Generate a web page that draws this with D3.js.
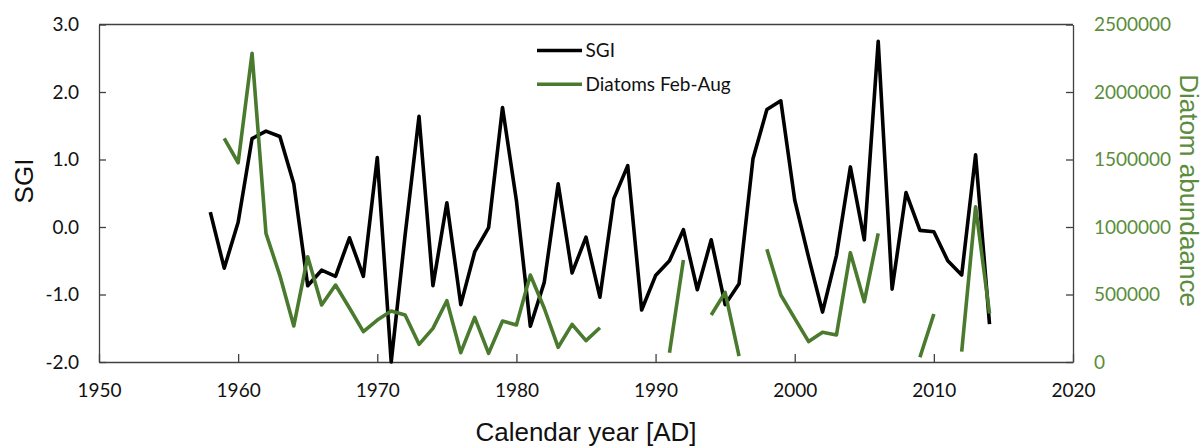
<!DOCTYPE html>
<html>
<head>
<meta charset="utf-8">
<script src="https://cdn.jsdelivr.net/npm/d3@7/dist/d3.min.js"></script>
<style>
  html, body { margin: 0; padding: 0; background: #fff; }
  svg { display: block; }
</style>
</head>
<body>
<svg id="chart" width="1204" height="447"></svg>
<script>
// Annual series, 1958–2014
const years = d3.range(1958, 2015);

// Standardised growth index
const sgi = [
  0.22, -0.61, 0.07, 1.31, 1.42, 1.34, 0.64, -0.87, -0.64, -0.73,
  -0.16, -0.73, 1.03, -2.0, -0.12, 1.64, -0.87, 0.36, -1.15, -0.37,
  -0.01, 1.77, 0.39, -1.47, -0.82, 0.64, -0.68, -0.15, -1.04, 0.42,
  0.91, -1.23, -0.72, -0.50, -0.04, -0.93, -0.19, -1.15, -0.84, 1.01,
  1.74, 1.87, 0.40, -0.45, -1.26, -0.42, 0.89, -0.19, 2.75, -0.92,
  0.51, -0.05, -0.07, -0.50, -0.71, 1.07, -1.44
];

// Diatom abundance, February–August (null = no sample)
const diatoms = [
  null, 1657000, 1476000, 2287000, 953000, 640000, 267000, 780000, 422000, 570000,
  400000, 225000, 311000, 378000, 348000, 131000, 249000, 454000, 69000, 331000,
  64000, 304000, 274000, 644000, 398000, 109000, 279000, 158000, 254000, null,
  null, null, null, 69000, 756000, null, 348000, 516000, 44000, null,
  835000, 496000, 323000, 151000, 220000, 200000, 810000, 447000, 953000, null,
  null, 35000, 356000, null, 77000, 1150000, 360000
];

const xTicks = [1950, 1960, 1970, 1980, 1990, 2000, 2010, 2020];
const sgiTicks = [3.0, 2.0, 1.0, 0.0, -1.0, -2.0];
const diatomTicks = [0, 500000, 1000000, 1500000, 2000000, 2500000];

const legendItems = ["SGI", "Diatoms Feb-Aug"];

const GREEN_LINE = "#4a7a2e";
const GREEN_TEXT = "#5a8d3b";
const AXIS = "#404040";
const TICK_FONT = "Lato, 'Open Sans', sans-serif";
const TITLE_FONT = "'Liberation Sans', Arial, sans-serif";

const svg = d3.select("#chart");
const m = { left: 99, right: 1073, top: 24.5, bottom: 362 };

const x = d3.scaleLinear().domain([1950, 2020]).range([m.left, m.right]);
const yL = d3.scaleLinear().domain([-2, 3]).range([m.bottom, m.top]);
const yR = d3.scaleLinear().domain([0, 2500000]).range([m.bottom, m.top]);

// plain hyphen for negatives
const fmt1 = d => d3.format(".1f")(d).replace("\u2212", "-");

// Frame
svg.append("line")
  .attr("x1", m.left).attr("x2", m.right)
  .attr("y1", m.top).attr("y2", m.top)
  .attr("stroke", AXIS).attr("stroke-width", 1.3);

// Bottom axis, ticks pointing inward
const gx = svg.append("g")
  .attr("transform", `translate(0,${m.bottom})`)
  .call(d3.axisBottom(x).tickValues(xTicks).tickFormat(d3.format("d"))
    .tickSizeInner(-8).tickSizeOuter(0).tickPadding(22));
gx.select(".domain").attr("stroke", AXIS).attr("stroke-width", 1.3);
gx.selectAll(".tick line").attr("stroke", AXIS).attr("stroke-width", 1.3);
gx.selectAll(".tick text")
  .attr("font-family", TICK_FONT).attr("font-size", 19).attr("fill", "#111");

// Left axis (SGI)
const gl = svg.append("g")
  .attr("transform", `translate(${m.left},0)`)
  .call(d3.axisLeft(yL).tickValues(sgiTicks).tickFormat(fmt1)
    .tickSizeInner(-7).tickSizeOuter(0).tickPadding(20));
gl.select(".domain").attr("stroke", AXIS).attr("stroke-width", 1.3);
gl.selectAll(".tick line").attr("stroke", AXIS).attr("stroke-width", 1.3);
gl.selectAll(".tick text")
  .attr("font-family", TICK_FONT).attr("font-size", 19).attr("fill", "#111");

// Right axis (diatoms)
const gr = svg.append("g")
  .attr("transform", `translate(${m.right},0)`)
  .call(d3.axisRight(yR).tickValues(diatomTicks).tickFormat(d3.format("d"))
    .tickSizeInner(-7).tickSizeOuter(0).tickPadding(21));
gr.select(".domain").attr("stroke", AXIS).attr("stroke-width", 1.3);
gr.selectAll(".tick line").attr("stroke", AXIS).attr("stroke-width", 1.3);
gr.selectAll(".tick text")
  .attr("font-family", TICK_FONT).attr("font-size", 19).attr("fill", GREEN_TEXT);

// Series
const sgiLine = d3.line()
  .x((d, i) => x(years[i]))
  .y(d => yL(d));
const diatomLine = d3.line()
  .defined(d => d !== null)
  .x((d, i) => x(years[i]))
  .y(d => yR(d));

svg.append("path")
  .datum(sgi)
  .attr("d", sgiLine)
  .attr("fill", "none").attr("stroke", "#000")
  .attr("stroke-width", 3.6).attr("stroke-linejoin", "round");

svg.append("path")
  .datum(diatoms)
  .attr("d", diatomLine)
  .attr("fill", "none").attr("stroke", GREEN_LINE)
  .attr("stroke-width", 3.6).attr("stroke-linejoin", "round");

// Legend
const legend = svg.append("g").attr("transform", "translate(537,50.5)");
legendItems.forEach((name, i) => {
  const g = legend.append("g").attr("transform", `translate(0,${i * 33.7})`);
  g.append("line").attr("x1", 0).attr("x2", 45).attr("y1", 0).attr("y2", 0)
    .attr("stroke", i === 0 ? "#000" : GREEN_LINE).attr("stroke-width", 3.6);
  g.append("text").attr("x", 48.5).attr("y", 6.8)
    .attr("font-family", TICK_FONT).attr("font-size", 19).attr("fill", "#111")
    .text(name);
});

// Axis titles
svg.append("text")
  .attr("x", (m.left + m.right) / 2).attr("y", 441)
  .attr("text-anchor", "middle")
  .attr("font-family", TITLE_FONT).attr("font-size", 26).attr("fill", "#111")
  .text("Calendar year [AD]");

svg.append("text")
  .attr("transform", "translate(33,181) rotate(-90)")
  .attr("text-anchor", "middle")
  .attr("font-family", TITLE_FONT).attr("font-size", 26).attr("fill", "#111")
  .text("SGI");

svg.append("text")
  .attr("transform", "translate(1180,190.5) rotate(90)")
  .attr("text-anchor", "middle")
  .attr("font-family", TITLE_FONT).attr("font-size", 26).attr("fill", GREEN_TEXT)
  .text("Diatom abundaance");
</script>
</body>
</html>
